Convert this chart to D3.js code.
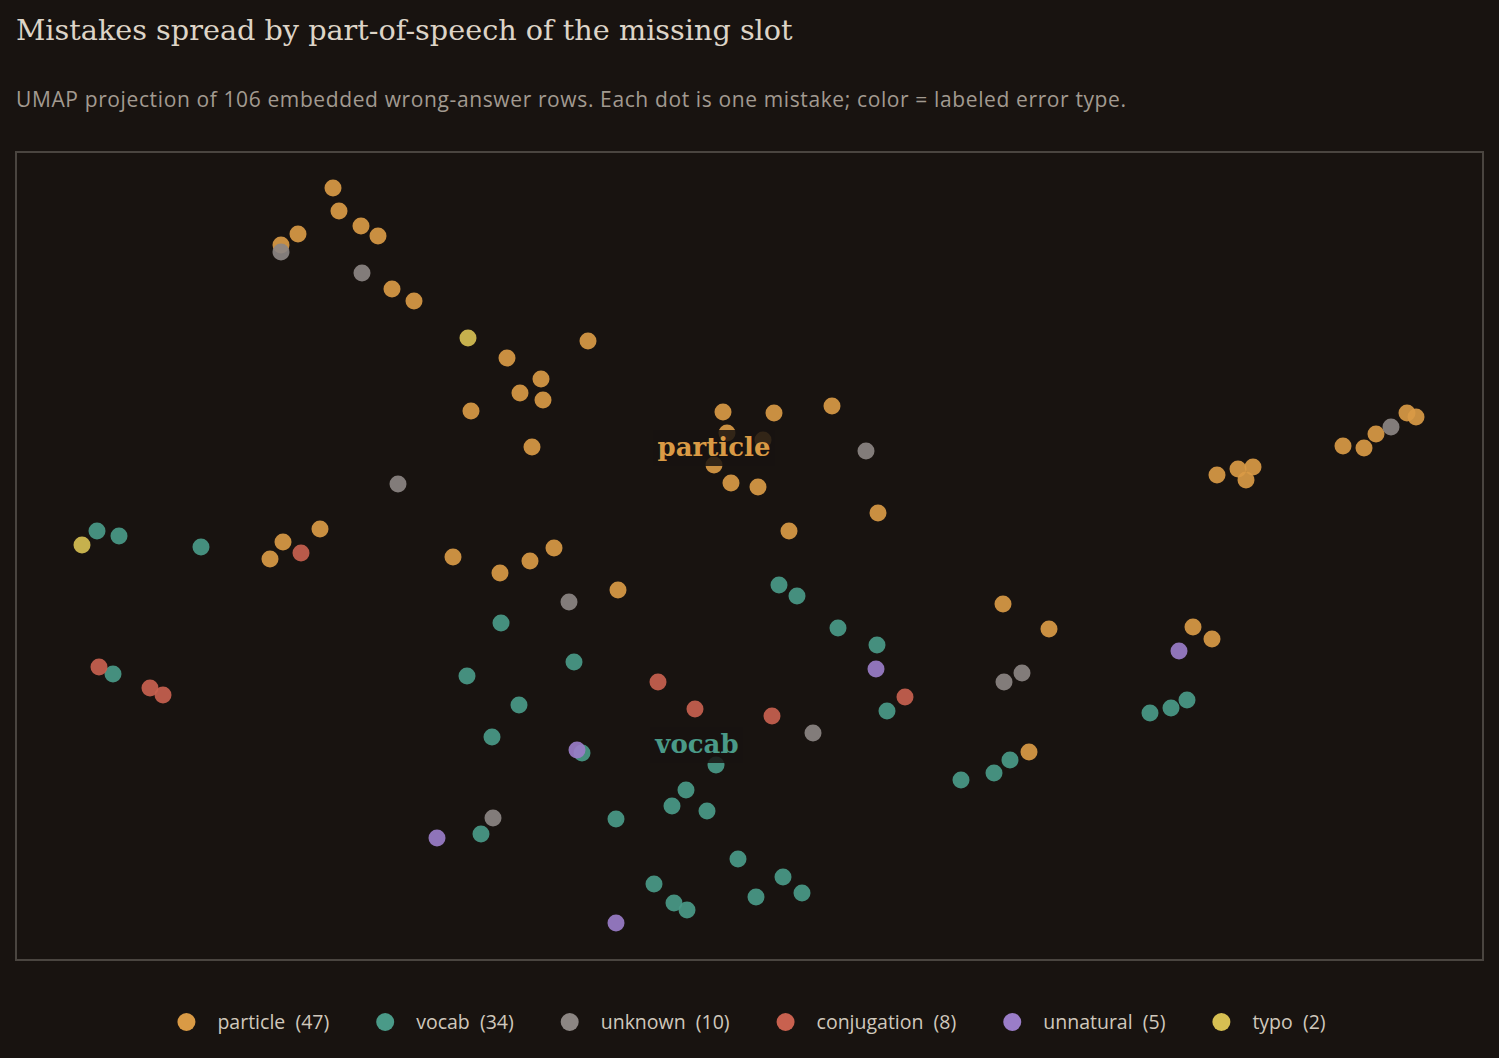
<!DOCTYPE html>
<html>
<head>
<meta charset="utf-8">
<script src="https://cdn.jsdelivr.net/npm/d3@7"></script>
<style>
    html, body { margin: 0; padding: 0; background: #181310; }
    svg { display: block; }
</style>
</head>
<body>
<div id="chart"></div>
<script>
// error types, in draw order
const categories = ["particle", "vocab", "unknown", "conjugation", "unnatural", "typo"];
const counts = [47, 34, 10, 8, 5, 2];
const colors = ["#d99a45", "#4a9a88", "#8c8683", "#c8614f", "#9a7dc8", "#d6bf52"];

// UMAP coordinates [x, y] per error type
const particlePts = [
    [3.17, 7.72], [3.23, 7.49], [3.45, 7.34], [3.62, 7.24], [2.82, 7.26], [2.65, 7.15],
    [3.76, 6.71], [3.98, 6.59], [5.72, 6.19], [4.91, 6.02], [5.25, 5.81], [5.04, 5.67],
    [5.27, 5.60], [4.55, 5.49], [5.16, 5.13], [7.07, 5.48], [7.58, 5.47], [8.16, 5.54],
    [7.11, 5.27], [7.47, 5.20], [6.98, 4.95], [7.15, 4.77], [7.42, 4.73], [7.73, 4.29],
    [8.62, 4.47], [3.04, 4.31], [2.67, 4.18], [2.54, 4.01], [4.37, 4.03], [4.84, 3.87],
    [5.14, 3.99], [5.38, 4.12], [6.02, 3.70], [9.87, 3.56], [10.33, 3.31], [11.77, 3.33],
    [11.96, 3.21], [10.13, 2.08], [12.01, 4.85], [12.22, 4.91], [12.37, 4.93], [12.30, 4.80],
    [13.27, 5.14], [13.48, 5.12], [13.60, 5.26], [13.91, 5.47], [14.00, 5.43]
];
const vocabPts = [
    [0.81, 4.29], [1.03, 4.24], [1.85, 4.13], [0.97, 2.86], [4.85, 3.37], [4.51, 2.84],
    [5.58, 2.98], [5.03, 2.55], [4.76, 2.23], [5.66, 2.07], [7.63, 3.75], [7.81, 3.64],
    [8.22, 3.32], [8.61, 3.15], [8.71, 2.49], [7.00, 1.95], [6.70, 1.70], [6.56, 1.54],
    [6.91, 1.49], [6.00, 1.41], [4.65, 1.26], [7.22, 1.01], [6.38, 0.76], [6.58, 0.57],
    [6.71, 0.50], [7.40, 0.63], [7.67, 0.83], [7.86, 0.67], [9.45, 1.80], [9.78, 1.87],
    [9.94, 2.00], [11.34, 2.47], [11.55, 2.52], [11.71, 2.60]
];
const unknownPts = [
    [2.65, 7.08], [3.46, 6.87], [3.82, 4.76], [8.50, 5.09], [5.53, 3.58],
    [7.97, 2.27], [9.88, 2.78], [10.06, 2.87], [4.77, 1.42], [13.75, 5.33]
];
const conjugationPts = [
    [2.85, 4.07], [0.83, 2.93], [1.34, 2.72], [1.47, 2.65],
    [6.42, 2.78], [6.79, 2.51], [7.56, 2.44], [8.89, 2.63]
];
const unnaturalPts = [[8.60, 2.91], [11.63, 3.09], [5.61, 2.10], [4.21, 1.22], [6.00, 0.37]];
const typoPts = [[4.52, 6.22], [0.66, 4.15]];

// cluster annotations [name, x, y]
const clusterLabels = [["particle", 6.98, 5.04], ["vocab", 6.81, 2.07]];

const width = 1499;
const height = 1058;
const plot = { left: 16, right: 1483, top: 152, bottom: 960 };

const svg = d3.select("#chart")
    .append("svg")
    .attr("width", width)
    .attr("height", height);

svg.append("rect")
    .attr("width", width)
    .attr("height", height)
    .attr("fill", "#181310");

// Title + subtitle
svg.append("text")
    .attr("x", 16)
    .attr("y", 40)
    .style("font-family", "'DejaVu Serif', 'Liberation Serif', serif")
    .style("font-size", "28.7px")
    .style("fill", "#ddd4c7")
    .text("Mistakes spread by part-of-speech of the missing slot");

svg.append("text")
    .attr("x", 16)
    .attr("y", 107)
    .style("font-family", "'Open Sans', 'Noto Sans', sans-serif")
    .style("font-size", "21px")
    .style("letter-spacing", "0.62px")
    .style("fill", "#a29a90")
    .text("UMAP projection of 106 embedded wrong-answer rows. Each dot is one mistake; color = labeled error type.");

// Scales
const xScale = d3.scaleLinear()
    .domain([0, 14.67])
    .range([plot.left, plot.right]);

const yScale = d3.scaleLinear()
    .domain([0, 8.08])
    .range([plot.bottom, plot.top]);

// frame
svg.append("rect")
    .attr("x", plot.left)
    .attr("y", plot.top)
    .attr("width", plot.right - plot.left)
    .attr("height", plot.bottom - plot.top)
    .attr("fill", "none")
    .attr("stroke", "#4a4540")
    .attr("stroke-width", 2);

const seriesPts = [particlePts, vocabPts, unknownPts, conjugationPts, unnaturalPts, typoPts];

categories.forEach((cat, i) => {
    svg.append("g")
        .selectAll("circle")
        .data(seriesPts[i])
        .enter()
        .append("circle")
        .attr("cx", d => xScale(d[0]))
        .attr("cy", d => yScale(d[1]))
        .attr("r", 8.5)
        .attr("fill", colors[i])
        .attr("fill-opacity", 0.92);
});

// cluster labels with a dim backing box
clusterLabels.forEach(([name, x, y]) => {
    const g = svg.append("g");
    const bg = g.append("rect");
    const t = g.append("text")
        .attr("x", xScale(x))
        .attr("y", yScale(y))
        .attr("text-anchor", "middle")
        .style("font-family", "'DejaVu Serif', 'Liberation Serif', serif")
        .style("font-weight", "bold")
        .style("font-size", "26px")
        .style("fill", colors[categories.indexOf(name)])
        .text(name);
    const bb = t.node().getBBox();
    bg.attr("x", bb.x - 4)
        .attr("y", bb.y - 2)
        .attr("width", bb.width + 8)
        .attr("height", bb.height + 6)
        .attr("fill", "#181310")
        .attr("opacity", 0.85);
});

// Legend
const legend = svg.append("g");
let lx = 0;
categories.forEach((cat, i) => {
    const item = legend.append("g").attr("transform", `translate(${lx},0)`);
    item.append("circle")
        .attr("cx", 9)
        .attr("cy", 0)
        .attr("r", 9)
        .attr("fill", colors[i]);
    const t = item.append("text")
        .attr("x", 40)
        .attr("y", 7)
        .attr("xml:space", "preserve")
        .style("font-family", "'Open Sans', 'Noto Sans', sans-serif")
        .style("font-size", "19.5px")
        .style("fill", "#d0c8bc")
        .style("white-space", "pre")
        .text(`${cat}  (${counts[i]})`);
    lx += 40 + t.node().getComputedTextLength() + 47;
});
const legendW = lx - 47;
legend.attr("transform", `translate(${(width - legendW) / 2 + 2},1022)`);
</script>
</body>
</html>
